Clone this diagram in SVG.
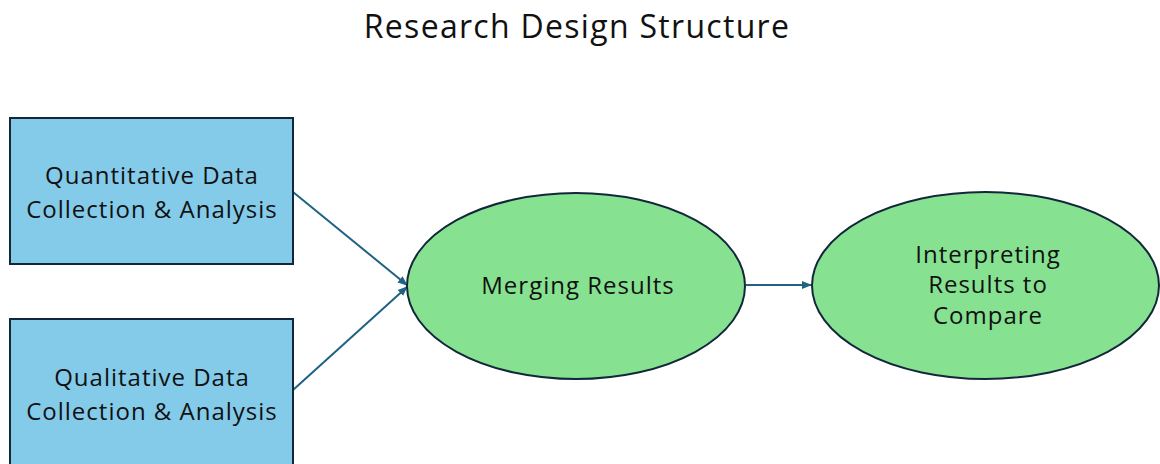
<svg xmlns="http://www.w3.org/2000/svg" width="1160" height="464" viewBox="0 0 1160 464">
  <style>
    text { font-family: "Open Sans", "Liberation Sans", sans-serif; fill: #111; text-anchor: middle; }
    .title { font-size: 32px; letter-spacing: 1.3px; }
    .lbl { font-size: 24px; letter-spacing: 1px; }
    .box { fill: #84cbea; stroke: #13273a; stroke-width: 2; }
    .oval { fill: #86e291; stroke: #13273a; stroke-width: 2; }
    .conn { stroke: #1f6283; stroke-width: 2; fill: none; marker-end: url(#arrow); }
  </style>
  <defs>
    <marker id="arrow" viewBox="0 0 10 10" refX="9" refY="5" markerWidth="5" markerHeight="5" orient="auto" markerUnits="strokeWidth">
      <path d="M0,1 L10,5 L0,9 Z" fill="#1f6283"/>
    </marker>
  </defs>
  <rect width="1160" height="464" fill="#ffffff"/>
  <text class="title" x="577" y="38">Research Design Structure</text>

  <g id="connectors">
    <line class="conn" x1="293" y1="192" x2="407" y2="285"/>
    <line class="conn" x1="293" y1="390" x2="407" y2="287"/>
    <line class="conn" x1="746" y1="285" x2="811" y2="285"/>
  </g>

  <g id="quantitative">
    <rect class="box" x="10" y="118" width="283" height="146"/>
    <text class="lbl" x="152" y="184">Quantitative Data</text>
    <text class="lbl" x="152" y="218">Collection &amp; Analysis</text>
  </g>

  <g id="qualitative">
    <rect class="box" x="10" y="319" width="283" height="150"/>
    <text class="lbl" x="152" y="386">Qualitative Data</text>
    <text class="lbl" x="152" y="420">Collection &amp; Analysis</text>
  </g>

  <g id="merging">
    <ellipse class="oval" cx="576" cy="286" rx="169" ry="93"/>
    <text class="lbl" x="578" y="294">Merging Results</text>
  </g>

  <g id="interpreting">
    <ellipse class="oval" cx="985.5" cy="285.5" rx="173.5" ry="93.5"/>
    <text class="lbl" x="988" y="263">Interpreting</text>
    <text class="lbl" x="988" y="293">Results to</text>
    <text class="lbl" x="988" y="324">Compare</text>
  </g>
</svg>
